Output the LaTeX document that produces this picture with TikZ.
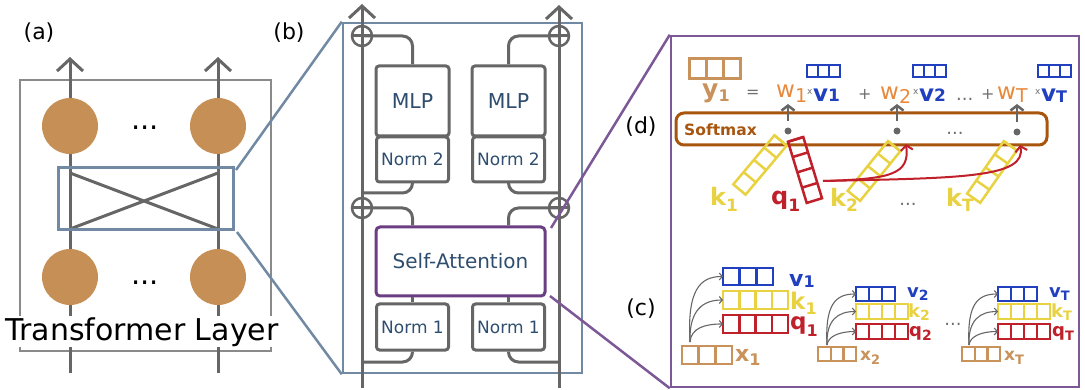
\documentclass[tikz,border=0pt]{standalone}
\usepackage{fontspec}
\setmainfont{DejaVu Sans}
\usetikzlibrary{arrows.meta,calc}
\definecolor{cgray}{HTML}{666666}
\definecolor{rgray}{HTML}{8A8A8A}
\definecolor{ltgray}{HTML}{707070}
\definecolor{steel}{HTML}{7189A3}
\definecolor{neur}{HTML}{C68F55}
\definecolor{ctan}{HTML}{C8925A}
\definecolor{cbrown}{HTML}{A8560F}
\definecolor{corange}{HTML}{E8893C}
\definecolor{cblue}{HTML}{2040C0}
\definecolor{cyellow}{HTML}{E9D242}
\definecolor{cred}{HTML}{C0202A}
\definecolor{cpurple}{HTML}{7D5897}
\definecolor{cpurpleb}{HTML}{6B3D82}
\definecolor{textblue}{HTML}{2F4D6E}
\newcommand{\sbs}[3]{\raisebox{-#1pt}{\fontsize{#2}{#2}\selectfont #3}}
\newcommand{\vecbox}[7]{%
  \node[draw=#6, line width=#7, minimum width=#3*#4, minimum height=#5, inner sep=0pt, outer sep=0pt, #2] (#1) {};
  \foreach \j in {1,...,#3}{\draw[#6, line width=#7] ($(#1.north west)!\j/#3!(#1.north east)$) -- ($(#1.south west)!\j/#3!(#1.south east)$);}
}
\begin{document}
\begin{tikzpicture}[x=1pt,y=-1pt,
  upflow/.style={draw=cgray, line width=3pt, -{Straight Barb[length=12pt,width=26pt]}},
  xline/.style={draw=cgray, line width=3pt},
  neuron/.style={circle, fill=neur, minimum size=56pt, inner sep=0pt},
  blk/.style={draw=cgray, line width=3pt, rounded corners=3pt, text=textblue, font=\fontsize{17}{17}\selectfont, inner sep=0pt},
  conn/.style={draw=cgray, line width=3pt},
  oplus/.style={circle, draw=cgray, line width=2.5pt, minimum size=20pt, inner sep=0pt},
  plabel/.style={anchor=base, inner sep=0pt, font=\fontsize{22}{22}\selectfont},
  eqn/.style={anchor=base west, inner sep=0pt},
  upgray/.style={draw=cgray, line width=2.5pt, -{Straight Barb[length=5pt,width=13pt]}},
  redarr/.style={draw=cred, line width=2pt, -{Straight Barb[length=5pt,width=12pt]}},
  thinarr/.style={draw=cgray, line width=1.1pt, -{Straight Barb[length=3pt,width=7pt]}},
  sdot/.style={circle, fill=cgray, minimum size=7pt, inner sep=0pt}
]
\useasboundingbox (0,0) rectangle (1085,390);

% ---------- panel (a)
\node[plabel] (la) at (39,39.5) {(a)};
\node[draw=rgray, line width=2pt, minimum width=251, minimum height=271, inner sep=0pt] (tlbox) at (145.5,215.5) {};
\coordinate (a1b) at (70,373); \coordinate (a1t) at (70,57);
\coordinate (a2b) at (218,373); \coordinate (a2t) at (218,57);
\draw[upflow] (a1b) -- (a1t);
\draw[upflow] (a2b) -- (a2t);
\coordinate (c1) at (70,173); \coordinate (c2) at (218,229);
\coordinate (c3) at (70,229); \coordinate (c4) at (218,173);
\draw[xline] (c1) -- (c2);
\draw[xline] (c3) -- (c4);
\node[draw=steel, line width=3pt, minimum width=175, minimum height=62, inner sep=0pt] (mix) at (145.5,199) {};
\node[neuron] (n11) at (70,126) {};
\node[neuron] (n12) at (218,126) {};
\node[neuron] (n21) at (70,277) {};
\node[neuron] (n22) at (218,277) {};
\node[anchor=base, inner sep=0pt, font=\fontsize{29}{29}\selectfont] (dt1) at (145,130) {...};
\node[anchor=base, inner sep=0pt, font=\fontsize{29}{29}\selectfont] (dt2) at (145,285) {...};
\node[anchor=base, fill=white, inner sep=1pt, font=\fontsize{30}{30}\selectfont] (tl) at (142,340) {Transformer Layer};

% ---------- panel (b)
\node[plabel] (lb) at (289,39.5) {(b)};
\node[draw=steel, line width=2.5pt, minimum width=239, minimum height=350, inner sep=0pt] (pb) at (462.5,198) {};
\coordinate (sa1) at (236,170); \coordinate (sa2) at (237,232);
\draw[steel, line width=2.5pt] (sa1) -- (pb.north west);
\draw[steel, line width=2.5pt] (sa2) -- (pb.south west);
\coordinate (b1b) at (362,388); \coordinate (b1t) at (362,4);
\coordinate (b2b) at (559,388); \coordinate (b2t) at (559,5);
\draw[upflow] (b1b) -- (b1t);
\draw[upflow] (b2b) -- (b2t);
\node[blk, minimum width=73, minimum height=70, font=\fontsize{20.5}{20.5}\selectfont, yshift=-3pt] (mlpL) at (412.5,98) {MLP};
\node[blk, minimum width=73, minimum height=70, font=\fontsize{20.5}{20.5}\selectfont, yshift=-3pt] (mlpR) at (508.5,98) {MLP};
\node[blk, minimum width=72, minimum height=45] (n2L) at (412.5,159.5) {Norm 2};
\node[blk, minimum width=72, minimum height=45] (n2R) at (508.5,159.5) {Norm 2};
\node[blk, draw=cpurpleb, rounded corners=4pt, minimum width=169, minimum height=69, font=\fontsize{20}{20}\selectfont] (sa) at (460.5,261.5) {Self-Attention};
\node[blk, minimum width=72, minimum height=46] (n1L) at (412.5,327) {Norm 1};
\node[blk, minimum width=72, minimum height=46] (n1R) at (508.5,327) {Norm 1};
\node[oplus] (pl1) at (362,36) {};
\node[oplus] (pl2) at (362,208) {};
\node[oplus] (pr1) at (559,36) {};
\node[oplus] (pr2) at (559,208) {};
\draw[conn] (pl1.west) -- (pl1.east);
\draw[conn] (pl2.west) -- (pl2.east);
\draw[conn] (pr1.west) -- (pr1.east);
\draw[conn] (pr2.west) -- (pr2.east);
\coordinate (jl1) at (362,193); \coordinate (jl2) at (362,362);
\coordinate (jr1) at (559,193); \coordinate (jr2) at (559,362);
% left column
\draw[conn, rounded corners=10pt] (mlpL.north) -- (mlpL.north |- pl1) -- (pl1.center);
\draw[conn] (mlpL.south) -- (n2L.north);
\draw[conn, rounded corners=10pt] (n2L.south) -- (n2L.south |- jl1) -- (jl1);
\draw[conn, rounded corners=10pt] (n1L.north |- sa.north) -- (n1L.north |- pl2) -- (pl2.center);
\draw[conn] (n1L.north |- sa.south) -- (n1L.north);
\draw[conn, rounded corners=10pt] (n1L.south) -- (n1L.south |- jl2) -- (jl2);
% right column
\draw[conn, rounded corners=10pt] (mlpR.north) -- (mlpR.north |- pr1) -- (pr1.center);
\draw[conn] (mlpR.south) -- (n2R.north);
\draw[conn, rounded corners=10pt] (n2R.south) -- (n2R.south |- jr1) -- (jr1);
\draw[conn, rounded corners=10pt] (n1R.north |- sa.north) -- (n1R.north |- pr2) -- (pr2.center);
\draw[conn] (n1R.north |- sa.south) -- (n1R.north);
\draw[conn, rounded corners=10pt] (n1R.south) -- (n1R.south |- jr2) -- (jr2);

% ---------- panels (d) and (c)
\node[plabel] (ld) at (641,134) {(d)};
\node[plabel] (lc) at (641,316) {(c)};
\node[draw=cpurple, line width=2.5pt, minimum width=408, minimum height=351, inner sep=0pt] (pd) at (875,211.5) {};
\coordinate (pa1) at (551,228); \coordinate (pa2) at (550,296);
\draw[cpurple, line width=2.5pt] (pa1) -- (pd.north west);
\draw[cpurple, line width=2.5pt] (pa2) -- (pd.south west);

% equation row
\vecbox{ybox}{anchor=north west, at={(689,59)}}{3}{17}{20}{ctan}{3pt}
\vecbox{vb1}{anchor=north west, at={(807,65)}}{3}{11}{12}{cblue}{2pt}
\vecbox{vb2}{anchor=north west, at={(913,65)}}{3}{11}{12}{cblue}{2pt}
\vecbox{vbT}{anchor=north west, at={(1038,65)}}{3}{11}{12}{cblue}{2pt}
\node[eqn, text=ctan, font=\bfseries\fontsize{25}{25}\selectfont] (yl) at (702,98) {y\sbs{4}{16}{1}};
\node[eqn, text=ltgray, font=\fontsize{16}{16}\selectfont] (eqs) at (746,98) {=};
\node[eqn, text=corange, font=\fontsize{23}{23}\selectfont] (w1) at (776,98) {w\sbs{5}{19}{1}};
\node[eqn, text=ltgray, font=\fontsize{9}{9}\selectfont] (m1) at (807,95) {x};
\node[eqn, text=cblue, font=\bfseries\fontsize{23}{23}\selectfont] (v1e) at (813,102) {v\sbs{0}{17}{1}};
\node[eqn, text=ltgray, font=\fontsize{16}{16}\selectfont] (pls1) at (858,100) {+};
\node[eqn, text=corange, font=\fontsize{23}{23}\selectfont] (w2) at (880,100) {w\sbs{4}{19}{2}};
\node[eqn, text=ltgray, font=\fontsize{9}{9}\selectfont] (m2) at (913,95) {x};
\node[eqn, text=cblue, font=\bfseries\fontsize{23}{23}\selectfont] (v2e) at (919,102) {v\sbs{0}{17}{2}};
\node[eqn, text=ltgray, font=\fontsize{18}{18}\selectfont] (edots) at (956,101) {...};
\node[eqn, text=ltgray, font=\fontsize{16}{16}\selectfont] (pls2) at (981,100) {+};
\node[eqn, text=corange, font=\fontsize{23}{23}\selectfont] (wT) at (997,100) {w\sbs{3}{19}{T}};
\node[eqn, text=ltgray, font=\fontsize{9}{9}\selectfont] (mT) at (1035,95) {x};
\node[eqn, text=cblue, font=\bfseries\fontsize{23}{23}\selectfont] (vTe) at (1041,102) {v\sbs{1}{16}{T}};

% softmax
\node[draw=cbrown, line width=3pt, rounded corners=8pt, minimum width=371, minimum height=32, inner sep=0pt] (sm) at (861.5,129) {};
\node[eqn, text=cbrown, font=\bfseries\fontsize{15.5}{15.5}\selectfont] (smt) at (684,136) {Softmax};
\node[sdot] (s1) at (788,131) {};
\node[sdot] (s2) at (897,131) {};
\node[sdot] (s3) at (1017,132) {};
\node[anchor=base, inner sep=0pt, text=ltgray, font=\fontsize{18}{18}\selectfont] (sdots) at (955,135) {...};
\coordinate (u1) at (788,104); \coordinate (u2) at (897,104); \coordinate (u3) at (1017,104);
\draw[upgray] ($(s1)+(0,-10)$) -- (u1);
\draw[upgray] ($(s2)+(0,-10)$) -- (u2);
\draw[upgray] ($(s3)+(0,-10)$) -- (u3);

% keys and query
\vecbox{kd1}{at={(760,165)}, rotate=50}{4}{16}{16}{cyellow}{2.5pt}
\vecbox{qd1}{at={(805,170)}, rotate=107}{4}{16}{16}{cred}{2.5pt}
\vecbox{kd2}{at={(874,171)}, rotate=51}{4}{16}{16}{cyellow}{2.5pt}
\vecbox{kdT}{at={(992,172)}, rotate=55}{4}{16}{16}{cyellow}{2.5pt}
\coordinate (qs) at (823,181);
\coordinate (t2) at (906,144); \coordinate (tT) at (1020,145);
\draw[redarr] (qs) .. controls (890,179) and (910,175) .. (t2);
\draw[redarr] (qs) .. controls (960,178) and (1027,178) .. (tT);
\node[eqn, text=cyellow, font=\bfseries\fontsize{24}{24}\selectfont] (k1l) at (710,206) {k\sbs{6}{17}{1}};
\node[eqn, text=cred, font=\bfseries\fontsize{24}{24}\selectfont] (q1l) at (771,205) {q\sbs{7}{17}{1}};
\node[eqn, text=cyellow, font=\bfseries\fontsize{24}{24}\selectfont] (k2l) at (830,207) {k\sbs{5}{17}{2}};
\node[anchor=base, inner sep=0pt, text=ltgray, font=\fontsize{18}{18}\selectfont] (kdots) at (908,206) {...};
\node[eqn, text=cyellow, font=\bfseries\fontsize{24}{24}\selectfont] (kTl) at (946,207) {k\sbs{5}{17}{T}};

% ---------- panel (c)
\vecbox{cv1}{anchor=north west, at={(723,268)}}{3}{16.7}{17}{cblue}{2.5pt}
\vecbox{ck1}{anchor=north west, at={(723,291)}}{4}{16.25}{18}{cyellow}{2.5pt}
\vecbox{cq1}{anchor=north west, at={(723,315)}}{4}{16.25}{18}{cred}{2.5pt}
\vecbox{cx1}{anchor=north west, at={(682,346)}}{3}{16.7}{18}{ctan}{2.5pt}
\vecbox{cv2}{anchor=north west, at={(856,287)}}{3}{13}{14}{cblue}{2.2pt}
\vecbox{ck2}{anchor=north west, at={(856,304)}}{4}{13}{15}{cyellow}{2.2pt}
\vecbox{cq2}{anchor=north west, at={(856,324)}}{4}{13}{15}{cred}{2.2pt}
\vecbox{cx2}{anchor=north west, at={(818,347)}}{3}{12.7}{14}{ctan}{2.2pt}
\vecbox{cvT}{anchor=north west, at={(998,287)}}{3}{13}{14}{cblue}{2.2pt}
\vecbox{ckT}{anchor=north west, at={(998,304)}}{4}{13}{15}{cyellow}{2.2pt}
\vecbox{cqT}{anchor=north west, at={(998,324)}}{4}{13}{15}{cred}{2.2pt}
\vecbox{cxT}{anchor=north west, at={(962,347)}}{3}{12.7}{14}{ctan}{2.2pt}
\coordinate (g1) at (690,342);
\draw[thinarr] (g1) .. controls (687,290) and (700,276.5) .. (cv1.west);
\draw[thinarr] (g1) .. controls (689,310) and (703,300) .. (ck1.west);
\draw[thinarr] (g1) .. controls (691,328) and (705,324) .. (cq1.west);
\coordinate (g2) at (827,345);
\draw[thinarr] (g2) .. controls (825,305) and (835,294) .. (cv2.west);
\draw[thinarr] (g2) .. controls (826,320) and (838,311.5) .. (ck2.west);
\draw[thinarr] (g2) .. controls (828,336) and (840,331.5) .. (cq2.west);
\coordinate (g3) at (969,345);
\draw[thinarr] (g3) .. controls (967,305) and (977,294) .. (cvT.west);
\draw[thinarr] (g3) .. controls (968,320) and (980,311.5) .. (ckT.west);
\draw[thinarr] (g3) .. controls (970,336) and (982,331.5) .. (cqT.west);
\node[eqn, text=cblue, font=\bfseries\fontsize{22}{22}\selectfont] (lv1) at (789,287) {v\sbs{1}{16}{1}};
\node[eqn, text=cyellow, font=\bfseries\fontsize{23}{23}\selectfont] (lk1) at (790,309) {k\sbs{5}{16}{1}};
\node[eqn, text=cred, font=\bfseries\fontsize{23}{23}\selectfont] (lq1) at (790,330) {q\sbs{6}{16}{1}};
\node[eqn, text=ctan, font=\bfseries\fontsize{22}{22}\selectfont] (lx1) at (735,361) {x\sbs{4}{16}{1}};
\node[eqn, text=cblue, font=\bfseries\fontsize{18}{18}\selectfont] (lv2) at (907,298) {v\sbs{3}{14}{2}};
\node[eqn, text=cyellow, font=\bfseries\fontsize{18}{18}\selectfont] (lk2) at (908,317) {k\sbs{3}{14}{2}};
\node[eqn, text=cred, font=\bfseries\fontsize{18}{18}\selectfont] (lq2) at (909,337) {q\sbs{4}{14}{2}};
\node[eqn, text=ctan, font=\bfseries\fontsize{17}{17}\selectfont] (lx2) at (860,360) {x\sbs{4}{13}{2}};
\node[anchor=base, inner sep=0pt, text=ltgray, font=\fontsize{18}{18}\selectfont] (cdots) at (953,325) {...};
\node[eqn, text=cblue, font=\bfseries\fontsize{18}{18}\selectfont] (lvT) at (1049,298) {v\sbs{3}{13}{T}};
\node[eqn, text=cyellow, font=\bfseries\fontsize{18}{18}\selectfont] (lkT) at (1051,317) {k\sbs{3}{13}{T}};
\node[eqn, text=cred, font=\bfseries\fontsize{18}{18}\selectfont] (lqT) at (1052,337) {q\sbs{4}{13}{T}};
\node[eqn, text=ctan, font=\bfseries\fontsize{17}{17}\selectfont] (lxT) at (1004,360) {x\sbs{4}{13}{T}};
\end{tikzpicture}
\end{document}
